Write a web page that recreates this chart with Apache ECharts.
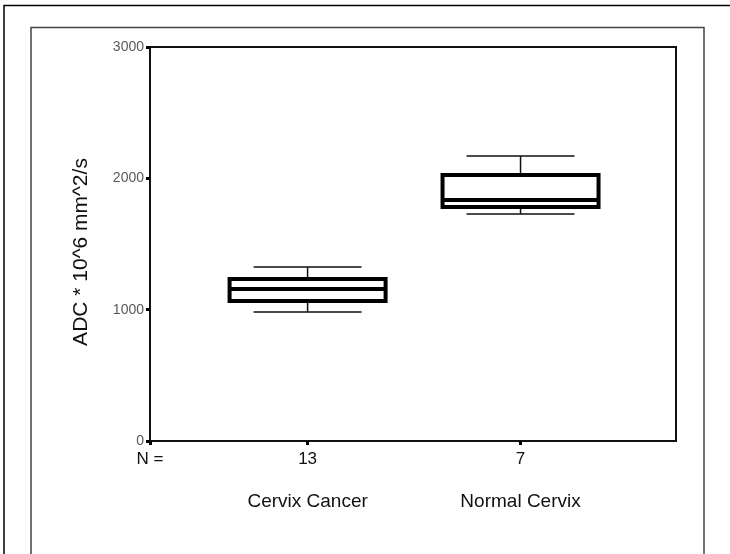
<!DOCTYPE html>
<html>
<head>
<meta charset="utf-8">
<script src="https://cdn.jsdelivr.net/npm/echarts@6/dist/echarts.min.js"></script>
<style>
html,body{margin:0;padding:0;background:#fff;}
#main{width:730px;height:554px;}
</style>
</head>
<body>
<div id="main"></div>
<script>
// data
var categories = ['Cervix Cancer', 'Normal Cervix'];
var counts = ['13', '7'];
var positions = [1, 2];
// [min, Q1, median, Q3, max]
var cancerBox = [982, 1066, 1158, 1234, 1325];
var normalBox = [1729, 1782, 1835, 2026, 2170];
var yTicks = [0, 1000, 2000, 3000];

var boxes = [cancerBox, normalBox];
var xMin = 0.26, xMax = 2.73;

function whiskerData(){
	return boxes.map(function(b, i){ return [positions[i]].concat(b); });
}
function bodyData(){
	// whiskers collapsed onto the box so only the thick box is drawn
	return boxes.map(function(b, i){ return [positions[i], b[1], b[1], b[2], b[3], b[3]]; });
}

var myChart = echarts.init(document.getElementById('main'));
var option = {
	animation : false,
	backgroundColor : '#fff',
	textStyle : { fontFamily : 'Liberation Sans, Arial, sans-serif' },
	/**
	 * outer page frames
	 */
	graphic : [
		{ type:'polyline', shape:{ points:[[4,554],[4,5.5],[730,5.5]] }, style:{ stroke:'#000', lineWidth:1.5, fill:null }, silent:true },
		{ type:'rect', shape:{ x:31, y:27.5, width:673, height:540 }, style:{ stroke:'#444', lineWidth:1.5, fill:null }, silent:true }
	],
	grid : {
		left : 150,
		right : 54,
		top : 47,
		bottom : 113,
		show : true,
		borderColor : '#111',
		borderWidth : 2
	},
	xAxis : [ {
		type : 'value',
		min : xMin,
		max : xMax,
		splitLine : { show:false },
		axisLine : { show:true, lineStyle:{ color:'#111', width:2 } },
		axisTick : { show:true, customValues:[xMin].concat(positions), length:4, lineStyle:{ color:'#000', width:3 } },
		axisLabel : {
			customValues : [xMin].concat(positions),
			margin : 10,
			fontSize : 17,
			color : '#111',
			formatter : function(v){
				if (Math.abs(v - xMin) < 1e-6) return 'N =';
				var i = positions.indexOf(Math.round(v));
				return i >= 0 ? counts[i] : '';
			}
		}
	}, {
		type : 'value',
		min : xMin,
		max : xMax,
		position : 'bottom',
		offset : 43,
		splitLine : { show:false },
		axisLine : { show:false },
		axisTick : { show:false },
		axisLabel : {
			customValues : positions,
			fontSize : 19,
			color : '#111',
			formatter : function(v){
				var i = positions.indexOf(Math.round(v));
				return i >= 0 ? categories[i] : '';
			}
		}
	} ],
	yAxis : [ {
		type : 'value',
		min : 0,
		max : 3000,
		interval : 1000,
		name : 'ADC * 10^6 mm^2/s',
		nameLocation : 'middle',
		nameGap : 58,
		nameTextStyle : { fontSize:21, color:'#111', padding:[0, 16, 0, 0] },
		splitLine : { show:false },
		axisLine : { show:true, lineStyle:{ color:'#111', width:2 } },
		axisTick : { show:true, length:4, lineStyle:{ color:'#000', width:3 } },
		axisLabel : {
			margin : 6,
			fontSize : 14,
			color : '#5a5a5a',
			formatter : function(v){ return yTicks.indexOf(v) >= 0 ? String(v) : ''; }
		}
	} ],
	series : [ {
		name : 'whiskers',
		type : 'boxplot',
		xAxisIndex : 0,
		boxWidth : [108, 108],
		itemStyle : { color:'#fff', borderColor:'#111', borderWidth:1.5 },
		data : whiskerData()
	}, {
		name : 'boxes',
		type : 'boxplot',
		xAxisIndex : 1,
		boxWidth : [156, 156],
		itemStyle : { color:'#fff', borderColor:'#000', borderWidth:4 },
		data : bodyData()
	} ]
};
myChart.setOption(option);
</script>
</body>
</html>
